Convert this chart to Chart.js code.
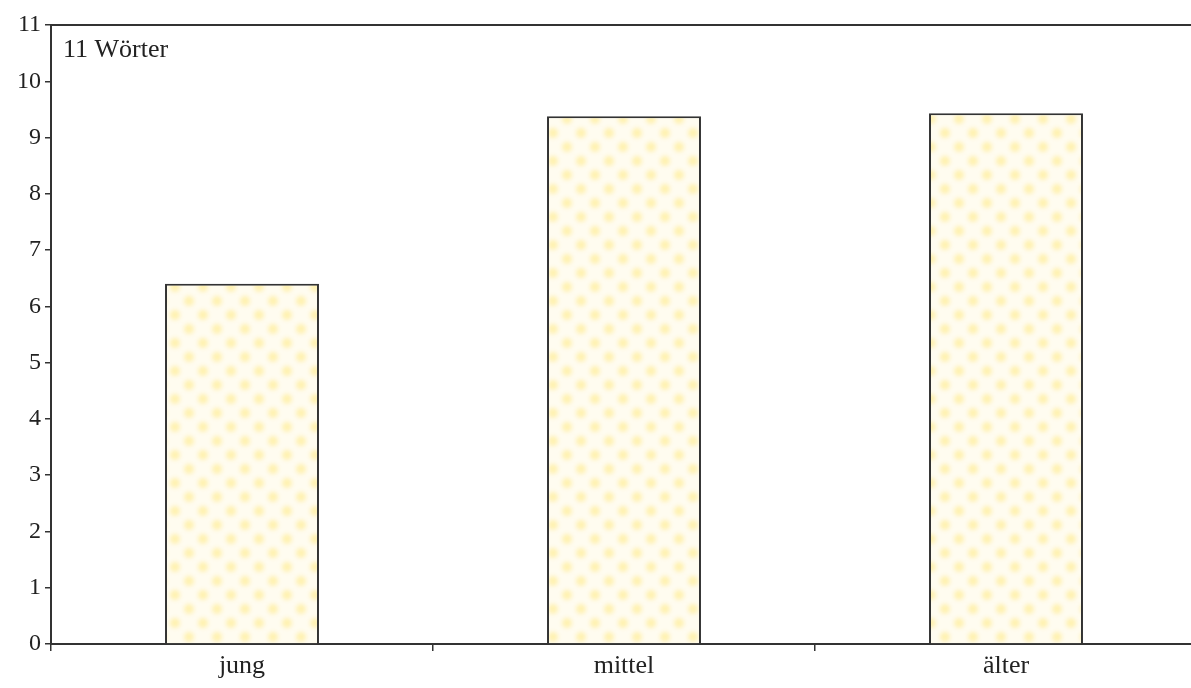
<!DOCTYPE html>
<html>
<head>
<meta charset="utf-8">
<script src="https://cdn.jsdelivr.net/npm/chart.js@4/dist/chart.umd.min.js"></script>
<style>
html,body{margin:0;padding:0;background:#fff;overflow:hidden;}
#wrap{width:1191px;height:688px;overflow:hidden;}
</style>
</head>
<body>
<div id="wrap"><canvas id="c" width="1197" height="688"></canvas></div>
<script>
const categories = ["jung", "mittel", "älter"];
const values = [6.4, 9.38, 9.43];
const yTicks = [0,1,2,3,4,5,6,7,8,9,10,11];
const panelLabel = "11 Wörter";

function makePattern() {
  const p = document.createElement('canvas');
  p.width = 28; p.height = 28;
  const g = p.getContext('2d');
  g.fillStyle = '#fffcf0';
  g.fillRect(0,0,28,28);
  g.filter = 'blur(2px)';
  g.fillStyle = '#fff1b0';
  [[7,7],[21,21],[-7,21],[35,7],[7,35],[21,-7]].forEach(([x,y])=>{
    g.beginPath(); g.arc(x,y,5,0,Math.PI*2); g.fill();
  });
  return document.getElementById('c').getContext('2d').createPattern(p,'repeat');
}

const serif = "'Liberation Serif', 'DejaVu Serif', serif";

const labelPlugin = {
  id: 'panelLabel',
  afterDraw(chart) {
    const ctx = chart.ctx;
    ctx.save();
    ctx.font = "26px " + serif;
    ctx.fillStyle = '#222';
    ctx.textBaseline = 'alphabetic';
    ctx.fillText(panelLabel, chart.chartArea.left + 12, chart.chartArea.top + 32);
    ctx.restore();
  }
};

new Chart(document.getElementById('c'), {
  type: 'bar',
  data: {
    labels: categories,
    datasets: [{
      data: values,
      backgroundColor: makePattern(),
      borderColor: '#333',
      borderWidth: 2,
      barPercentage: 0.403,
      categoryPercentage: 1.0
    }]
  },
  options: {
    responsive: false,
    animation: false,
    layout: { padding: { top: 25, right: 0, left: 0, bottom: 0 } },
    plugins: { legend: { display: false }, tooltip: { enabled: false } },
    scales: {
      x: {
        position: 'bottom',
        grid: { display: true, drawOnChartArea: false, tickLength: 7, color: '#333', lineWidth: 1.5, offset: true },
        border: { display: true, color: '#333', width: 2 },
        ticks: { color: '#222', font: { family: serif, size: 26 }, padding: 0 },
        afterFit(s) { s.height = 44; }
      },
      x2: {
        position: 'top',
        grid: { display: false },
        border: { display: true, color: '#333', width: 2 },
        ticks: { display: false },
        afterFit(s) { s.height = 0; }
      },
      y: {
        min: 0, max: 11,
        afterBuildTicks(s) { s.ticks = yTicks.map(v => ({ value: v })); },
        grid: { display: true, drawOnChartArea: false, tickLength: 6, color: '#333', lineWidth: 1.5 },
        border: { display: true, color: '#333', width: 2 },
        ticks: { color: '#222', font: { family: serif, size: 24 }, padding: 4 },
        afterFit(s) { s.width = 51; }
      }
    }
  },
  plugins: [labelPlugin]
});
</script>
</body>
</html>
